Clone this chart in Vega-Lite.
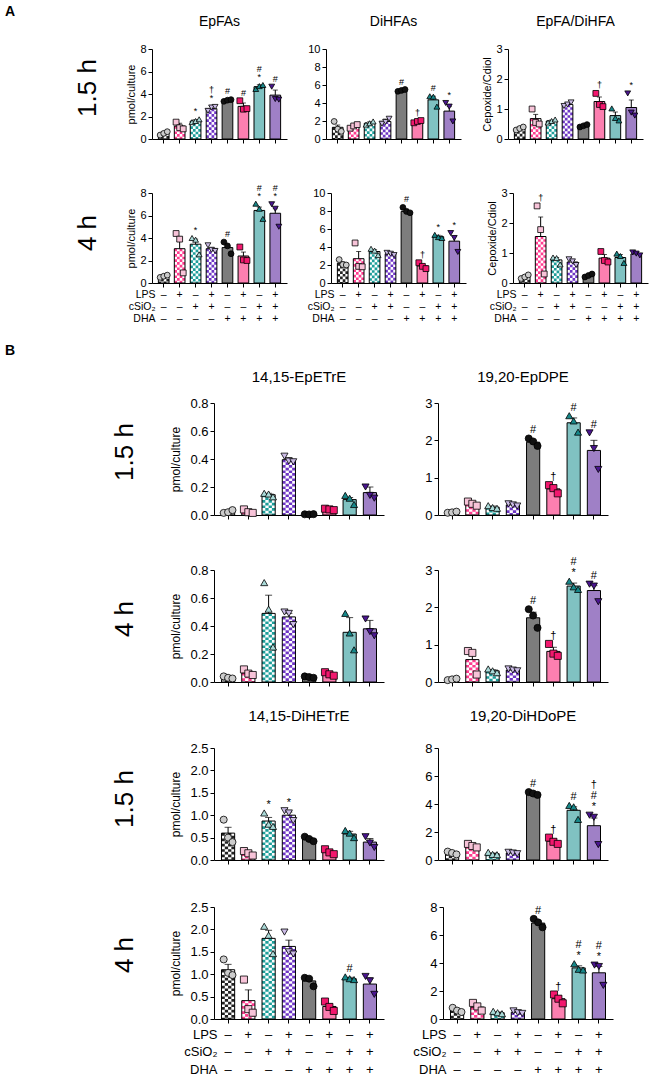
{
"$schema":"https://vega.github.io/schema/vega-lite/v6.json",
"padding":5,
"background":"white",
"config":{
 "view":{"stroke":null},
 "font":"Liberation Sans",
 "text":{"color":"black"},
 "title":{"font":"Liberation Sans","fontWeight":"normal","fontSize":14,"color":"black","offset":14},
 "axis":{"domainColor":"black","tickColor":"black","labelColor":"black","titleColor":"black","grid":false,"tickSize":4,"labelPadding":2,"labelFont":"Liberation Sans","titleFont":"Liberation Sans","titleFontWeight":"normal","domainWidth":1,"tickWidth":1}
},
"datasets":{"d":[
{"p":"A1","g":"–––","m":0.5,"hi":0.62,"v1":0.35,"v2":0.5,"v3":0.65},
{"p":"A1","g":"+––","m":1.15,"hi":1.4,"v1":1.5,"v2":1.0,"v3":0.9},
{"p":"A1","g":"–+–","m":1.6,"hi":1.72,"v1":1.5,"v2":1.6,"v3":1.75,"s":"*"},
{"p":"A1","g":"++–","m":2.7,"hi":2.9,"v1":2.5,"v2":2.8,"v3":2.85,"s":"*","s2":"†"},
{"p":"A1","g":"––+","m":3.45,"hi":3.52,"v1":3.35,"v2":3.45,"v3":3.5,"s":"#"},
{"p":"A1","g":"+–+","m":2.9,"hi":3.2,"v1":3.4,"v2":2.65,"v3":2.7,"s":"#"},
{"p":"A1","g":"–++","m":4.65,"hi":4.82,"v1":4.45,"v2":4.7,"v3":4.8,"s":"*","s2":"#"},
{"p":"A1","g":"+++","m":3.9,"hi":4.35,"v1":4.65,"v2":3.55,"v3":3.5,"s":"#"},
{"p":"A2","g":"–––","m":1.3,"hi":1.55,"v1":1.95,"v2":1.1,"v3":0.85},
{"p":"A2","g":"+––","m":1.4,"hi":1.55,"v1":1.2,"v2":1.45,"v3":1.6},
{"p":"A2","g":"–+–","m":1.75,"hi":1.9,"v1":1.6,"v2":1.75,"v3":1.95},
{"p":"A2","g":"++–","m":1.95,"hi":2.2,"v1":1.7,"v2":1.9,"v3":2.25},
{"p":"A2","g":"––+","m":5.4,"hi":5.5,"v1":5.3,"v2":5.4,"v3":5.5,"s":"#"},
{"p":"A2","g":"+–+","m":1.95,"hi":2.05,"v1":1.8,"v2":1.95,"v3":2.05,"s":"†"},
{"p":"A2","g":"–++","m":4.35,"hi":4.75,"v1":4.75,"v2":4.7,"v3":3.6,"s":"#"},
{"p":"A2","g":"+++","m":3.1,"hi":3.6,"v1":4.0,"v2":3.6,"v3":1.95,"s":"*"},
{"p":"A3","g":"–––","m":0.35,"hi":0.38,"v1":0.3,"v2":0.35,"v3":0.4},
{"p":"A3","g":"+––","m":0.68,"hi":0.82,"v1":1.0,"v2":0.55,"v3":0.5},
{"p":"A3","g":"–+–","m":0.6,"hi":0.63,"v1":0.55,"v2":0.6,"v3":0.65},
{"p":"A3","g":"++–","m":1.15,"hi":1.2,"v1":1.1,"v2":1.15,"v3":1.22},
{"p":"A3","g":"––+","m":0.44,"hi":0.47,"v1":0.4,"v2":0.44,"v3":0.48},
{"p":"A3","g":"+–+","m":1.25,"hi":1.4,"v1":1.52,"v2":1.15,"v3":1.08,"s":"†"},
{"p":"A3","g":"–++","m":0.78,"hi":0.9,"v1":1.02,"v2":0.7,"v3":0.62},
{"p":"A3","g":"+++","m":1.05,"hi":1.3,"v1":1.52,"v2":0.88,"v3":0.78,"s":"*"},
{"p":"A4","g":"–––","m":0.6,"hi":0.66,"v1":0.5,"v2":0.6,"v3":0.7},
{"p":"A4","g":"+––","m":3.05,"hi":4.1,"v1":4.4,"v2":3.9,"v3":0.9},
{"p":"A4","g":"–+–","m":3.45,"hi":3.9,"v1":4.0,"v2":3.85,"v3":2.55,"s":"*"},
{"p":"A4","g":"++–","m":3.05,"hi":3.15,"v1":3.35,"v2":2.95,"v3":2.85},
{"p":"A4","g":"––+","m":3.15,"hi":3.45,"v1":3.64,"v2":3.3,"v3":2.6,"s":"#"},
{"p":"A4","g":"+–+","m":2.4,"hi":2.75,"v1":3.2,"v2":2.05,"v3":2.0},
{"p":"A4","g":"–++","m":6.45,"hi":6.75,"v1":7.05,"v2":6.6,"v3":5.7,"s":"*","s2":"#"},
{"p":"A4","g":"+++","m":6.2,"hi":6.6,"v1":7.0,"v2":6.6,"v3":5.0,"s":"*","s2":"#"},
{"p":"A5","g":"–––","m":2.2,"hi":2.35,"v1":2.6,"v2":2.05,"v3":2.0},
{"p":"A5","g":"+––","m":2.7,"hi":3.5,"v1":4.45,"v2":1.85,"v3":1.8},
{"p":"A5","g":"–+–","m":3.5,"hi":3.7,"v1":3.8,"v2":3.6,"v3":3.1},
{"p":"A5","g":"++–","m":3.25,"hi":3.35,"v1":3.35,"v2":3.25,"v3":3.1},
{"p":"A5","g":"––+","m":7.95,"hi":8.2,"v1":8.4,"v2":7.95,"v3":7.8,"s":"#"},
{"p":"A5","g":"+–+","m":1.9,"hi":2.1,"v1":2.25,"v2":1.85,"v3":1.6,"s":"†"},
{"p":"A5","g":"–++","m":5.15,"hi":5.3,"v1":5.35,"v2":5.1,"v3":5.0,"s":"*"},
{"p":"A5","g":"+++","m":4.65,"hi":5.2,"v1":5.55,"v2":5.0,"v3":3.45,"s":"*"},
{"p":"A6","g":"–––","m":0.2,"hi":0.24,"v1":0.15,"v2":0.2,"v3":0.27},
{"p":"A6","g":"+––","m":1.55,"hi":2.2,"v1":2.57,"v2":1.78,"v3":0.3,"s":"†"},
{"p":"A6","g":"–+–","m":0.77,"hi":0.85,"v1":0.85,"v2":0.83,"v3":0.62},
{"p":"A6","g":"++–","m":0.7,"hi":0.76,"v1":0.79,"v2":0.72,"v3":0.6},
{"p":"A6","g":"––+","m":0.25,"hi":0.28,"v1":0.2,"v2":0.25,"v3":0.3},
{"p":"A6","g":"+–+","m":0.83,"hi":0.95,"v1":1.05,"v2":0.75,"v3":0.7},
{"p":"A6","g":"–++","m":0.85,"hi":0.95,"v1":0.98,"v2":0.9,"v3":0.67},
{"p":"A6","g":"+++","m":0.97,"hi":1.02,"v1":1.02,"v2":0.98,"v3":0.92},
{"p":"B1","g":"–––","m":0.02,"hi":0.025,"v1":0.015,"v2":0.02,"v3":0.035},
{"p":"B1","g":"+––","m":0.025,"hi":0.03,"v1":0.04,"v2":0.02,"v3":0.015},
{"p":"B1","g":"–+–","m":0.145,"hi":0.155,"v1":0.155,"v2":0.15,"v3":0.13},
{"p":"B1","g":"++–","m":0.395,"hi":0.41,"v1":0.42,"v2":0.385,"v3":0.38},
{"p":"B1","g":"––+","m":0.005,"hi":0.007,"v1":0.005,"v2":0.004,"v3":0.006},
{"p":"B1","g":"+–+","m":0.04,"hi":0.045,"v1":0.045,"v2":0.04,"v3":0.035},
{"p":"B1","g":"–++","m":0.11,"hi":0.125,"v1":0.14,"v2":0.12,"v3":0.075},
{"p":"B1","g":"+++","m":0.16,"hi":0.2,"v1":0.2,"v2":0.14,"v3":0.12},
{"p":"B2","g":"–––","m":0.07,"hi":0.08,"v1":0.06,"v2":0.07,"v3":0.09},
{"p":"B2","g":"+––","m":0.3,"hi":0.35,"v1":0.36,"v2":0.3,"v3":0.25},
{"p":"B2","g":"–+–","m":0.21,"hi":0.24,"v1":0.25,"v2":0.2,"v3":0.18},
{"p":"B2","g":"++–","m":0.27,"hi":0.3,"v1":0.3,"v2":0.27,"v3":0.24},
{"p":"B2","g":"––+","m":1.95,"hi":2.0,"v1":2.05,"v2":1.97,"v3":1.85,"s":"#"},
{"p":"B2","g":"+–+","m":0.7,"hi":0.8,"v1":0.8,"v2":0.72,"v3":0.58,"s":"†"},
{"p":"B2","g":"–++","m":2.47,"hi":2.6,"v1":2.66,"v2":2.52,"v3":2.22,"s":"#"},
{"p":"B2","g":"+++","m":1.73,"hi":2.0,"v1":2.2,"v2":1.78,"v3":1.22,"s":"#"},
{"p":"B3","g":"–––","m":0.03,"hi":0.035,"v1":0.04,"v2":0.03,"v3":0.025},
{"p":"B3","g":"+––","m":0.065,"hi":0.08,"v1":0.09,"v2":0.06,"v3":0.05},
{"p":"B3","g":"–+–","m":0.49,"hi":0.62,"v1":0.71,"v2":0.52,"v3":0.25},
{"p":"B3","g":"++–","m":0.465,"hi":0.49,"v1":0.5,"v2":0.49,"v3":0.41},
{"p":"B3","g":"––+","m":0.035,"hi":0.04,"v1":0.04,"v2":0.035,"v3":0.03},
{"p":"B3","g":"+–+","m":0.055,"hi":0.065,"v1":0.07,"v2":0.055,"v3":0.045},
{"p":"B3","g":"–++","m":0.355,"hi":0.46,"v1":0.49,"v2":0.35,"v3":0.23},
{"p":"B3","g":"+++","m":0.38,"hi":0.44,"v1":0.45,"v2":0.36,"v3":0.33},
{"p":"B4","g":"–––","m":0.07,"hi":0.08,"v1":0.05,"v2":0.07,"v3":0.09},
{"p":"B4","g":"+––","m":0.6,"hi":0.8,"v1":0.83,"v2":0.78,"v3":0.2},
{"p":"B4","g":"–+–","m":0.3,"hi":0.33,"v1":0.35,"v2":0.3,"v3":0.25},
{"p":"B4","g":"++–","m":0.32,"hi":0.35,"v1":0.35,"v2":0.32,"v3":0.3},
{"p":"B4","g":"––+","m":1.72,"hi":1.87,"v1":1.95,"v2":1.78,"v3":1.45,"s":"#"},
{"p":"B4","g":"+–+","m":0.82,"hi":0.93,"v1":1.02,"v2":0.76,"v3":0.7,"s":"†"},
{"p":"B4","g":"–++","m":2.57,"hi":2.65,"v1":2.7,"v2":2.55,"v3":2.48,"s":"*","s2":"#"},
{"p":"B4","g":"+++","m":2.45,"hi":2.58,"v1":2.62,"v2":2.57,"v3":2.15,"s":"#"},
{"p":"B5","g":"–––","m":0.6,"hi":0.73,"v1":0.9,"v2":0.5,"v3":0.4},
{"p":"B5","g":"+––","m":0.15,"hi":0.18,"v1":0.2,"v2":0.15,"v3":0.1},
{"p":"B5","g":"–+–","m":0.87,"hi":0.95,"v1":1.05,"v2":0.8,"v3":0.75,"s":"*"},
{"p":"B5","g":"++–","m":1.0,"hi":1.07,"v1":1.1,"v2":1.05,"v3":0.88,"s":"*"},
{"p":"B5","g":"––+","m":0.47,"hi":0.5,"v1":0.52,"v2":0.47,"v3":0.42},
{"p":"B5","g":"+–+","m":0.18,"hi":0.22,"v1":0.24,"v2":0.17,"v3":0.13},
{"p":"B5","g":"–++","m":0.58,"hi":0.64,"v1":0.66,"v2":0.6,"v3":0.5},
{"p":"B5","g":"+++","m":0.4,"hi":0.48,"v1":0.52,"v2":0.38,"v3":0.28},
{"p":"B6","g":"–––","m":0.5,"hi":0.55,"v1":0.6,"v2":0.5,"v3":0.4},
{"p":"B6","g":"+––","m":1.0,"hi":1.1,"v1":1.15,"v2":1.0,"v3":0.9},
{"p":"B6","g":"–+–","m":0.45,"hi":0.5,"v1":0.55,"v2":0.4,"v3":0.38},
{"p":"B6","g":"++–","m":0.5,"hi":0.55,"v1":0.55,"v2":0.5,"v3":0.45},
{"p":"B6","g":"––+","m":4.75,"hi":4.8,"v1":4.85,"v2":4.75,"v3":4.65,"s":"#"},
{"p":"B6","g":"+–+","m":1.35,"hi":1.5,"v1":1.6,"v2":1.3,"v3":1.15,"s":"†"},
{"p":"B6","g":"–++","m":3.55,"hi":3.8,"v1":3.9,"v2":3.8,"v3":2.9,"s":"#"},
{"p":"B6","g":"+++","m":2.45,"hi":3.0,"v1":3.2,"v2":3.05,"v3":1.1,"s":"*","s2":"#","s3":"†"},
{"p":"B7","g":"–––","m":1.1,"hi":1.22,"v1":1.33,"v2":1.03,"v3":0.98},
{"p":"B7","g":"+––","m":0.41,"hi":0.65,"v1":0.88,"v2":0.22,"v3":0.14},
{"p":"B7","g":"–+–","m":1.8,"hi":1.98,"v1":2.07,"v2":1.87,"v3":1.46},
{"p":"B7","g":"++–","m":1.62,"hi":1.76,"v1":1.94,"v2":1.5,"v3":1.45},
{"p":"B7","g":"––+","m":0.85,"hi":0.92,"v1":0.92,"v2":0.9,"v3":0.73},
{"p":"B7","g":"+–+","m":0.28,"hi":0.34,"v1":0.39,"v2":0.27,"v3":0.18},
{"p":"B7","g":"–++","m":0.9,"hi":0.93,"v1":0.94,"v2":0.9,"v3":0.88,"s":"#"},
{"p":"B7","g":"+++","m":0.78,"hi":0.92,"v1":0.95,"v2":0.85,"v3":0.55},
{"p":"B8","g":"–––","m":0.62,"hi":0.7,"v1":0.8,"v2":0.6,"v3":0.5},
{"p":"B8","g":"+––","m":0.85,"hi":1.0,"v1":1.15,"v2":0.9,"v3":0.6},
{"p":"B8","g":"–+–","m":0.45,"hi":0.5,"v1":0.55,"v2":0.45,"v3":0.38},
{"p":"B8","g":"++–","m":0.48,"hi":0.55,"v1":0.58,"v2":0.45,"v3":0.4},
{"p":"B8","g":"––+","m":6.85,"hi":7.0,"v1":7.15,"v2":6.9,"v3":6.55,"s":"#"},
{"p":"B8","g":"+–+","m":1.45,"hi":1.65,"v1":1.75,"v2":1.45,"v3":1.12,"s":"†"},
{"p":"B8","g":"–++","m":3.65,"hi":3.8,"v1":3.95,"v2":3.55,"v3":3.5,"s":"*","s2":"#"},
{"p":"B8","g":"+++","m":3.3,"hi":3.75,"v1":3.85,"v2":3.75,"v3":2.4,"s":"*","s2":"#"}
]},
"vconcat":[
{"title":{"text":"A","anchor":"start","fontSize":14,"fontWeight":"bold","offset":-4},
 "spacing":39,
 "vconcat":[
  {"spacing":20,"hconcat":[
   {"width":100,"height":90,"data":{"values":[{"t":"1.5 h"}]},"mark":{"type":"text","angle":270,"fontSize":26,"dy":33,"dx":6,"baseline":"middle","align":"center"},"encoding":{"text":{"field":"t"}}},
   {"width":135,"height":90,"title":"EpFAs","data":{"name":"d"},"transform":[{"filter":"datum.p=='A1'"}],"resolve":{"scale":{"xOffset":"independent"}},
    "encoding":{"x":{"field":"g","type":"nominal","scale":{"domain":["–––","+––","–+–","++–","––+","+–+","–++","+++"],"paddingInner":0.33,"paddingOuter":0.4},"axis":{"title":null,"labels":false}},
     "y":{"field":"m","type":"quantitative","scale":{"domain":[0,8],"nice":false},"axis":{"title":"pmol/culture","values":[0,2,4,6,8],"format":"d","labelFontSize":11,"titleFontSize":11,"titlePadding":2,"minExtent":14,"maxExtent":14}}},
    "layer":[
     {"transform":[{"filter":"substring(datum.g,2,3)=='–'"},{"fold":["v1","v2","v3","hi"],"as":["c","w"]}],"mark":{"type":"rule","strokeWidth":2.67,"strokeCap":"butt"},"encoding":{"y2":{"datum":0},"xOffset":{"field":"c","type":"nominal","scale":{"domain":["v1","v2","v3","hi"],"paddingInner":0,"paddingOuter":0}},"stroke":{"field":"g","type":"nominal","scale":{"domain":["–––","+––","–+–","++–"],"range":["#222222","#ff3d8f","#1e9e9a","#6d35c4"]},"legend":null},"strokeDash":{"field":"c","type":"nominal","scale":{"domain":["v1","v2","v3","hi"],"range":[[2.67,2.67],[0,2.67,2.67,0],[2.67,2.67],[0,2.67,2.67,0]]},"legend":null}}},
     {"mark":{"type":"bar","stroke":"black","strokeWidth":1},"encoding":{"color":{"field":"g","type":"nominal","scale":{"domain":["–––","+––","–+–","++–","––+","+–+","–++","+++"],"range":["transparent","transparent","transparent","transparent","#7d7d7d","#fc7fb0","#80c2c2","#9f80c6"]},"legend":null}}},
     {"mark":{"type":"rule","color":"black"},"encoding":{"y":{"field":"m","type":"quantitative"},"y2":{"field":"hi"}}},
     {"mark":{"type":"tick","orient":"horizontal","color":"black","size":5,"thickness":1},"encoding":{"y":{"field":"hi","type":"quantitative"}}},
     {"transform":[{"fold":["v1","v2","v3"],"as":["k","v"]}],"mark":{"type":"point","filled":true,"stroke":"black","strokeWidth":0.8,"size":34,"opacity":1},"encoding":{"y":{"field":"v","type":"quantitative"},"xOffset":{"field":"k","type":"nominal"},"shape":{"field":"g","type":"nominal","scale":{"domain":["–––","+––","–+–","++–","––+","+–+","–++","+++"],"range":["circle","square","triangle-up","triangle-down","circle","square","triangle-up","triangle-down"]},"legend":null},"fill":{"field":"g","type":"nominal","scale":{"domain":["–––","+––","–+–","++–","––+","+–+","–++","+++"],"range":["#cccccc","#f7c3d8","#aadad8","#cbbbe6","#111111","#f2186e","#17888a","#4b1690"]},"legend":null}}},
     {"transform":[{"filter":"datum.s"},{"fold":["v1","v2","v3","hi"],"as":["k","v"]},{"aggregate":[{"op":"max","field":"v","as":"top"}],"groupby":["g","s"]}],"mark":{"type":"text","baseline":"bottom","dy":-3,"fontSize":9,"color":"black"},"encoding":{"y":{"field":"top","type":"quantitative"},"text":{"field":"s"}}},
     {"transform":[{"filter":"datum.s2"},{"fold":["v1","v2","v3","hi"],"as":["k","v"]},{"aggregate":[{"op":"max","field":"v","as":"top"}],"groupby":["g","s2"]}],"mark":{"type":"text","baseline":"bottom","dy":-11,"fontSize":9,"color":"black"},"encoding":{"y":{"field":"top","type":"quantitative"},"text":{"field":"s2"}}}
    ]},
   {"width":135,"height":90,"title":"DiHFAs","data":{"name":"d"},"transform":[{"filter":"datum.p=='A2'"}],"resolve":{"scale":{"xOffset":"independent"}},
    "encoding":{"x":{"field":"g","type":"nominal","scale":{"domain":["–––","+––","–+–","++–","––+","+–+","–++","+++"],"paddingInner":0.33,"paddingOuter":0.4},"axis":{"title":null,"labels":false}},
     "y":{"field":"m","type":"quantitative","scale":{"domain":[0,10],"nice":false},"axis":{"title":null,"values":[0,2,4,6,8,10],"format":"d","labelFontSize":11,"minExtent":19,"maxExtent":19}}},
    "layer":[
     {"transform":[{"filter":"substring(datum.g,2,3)=='–'"},{"fold":["v1","v2","v3","hi"],"as":["c","w"]}],"mark":{"type":"rule","strokeWidth":2.67,"strokeCap":"butt"},"encoding":{"y2":{"datum":0},"xOffset":{"field":"c","type":"nominal","scale":{"domain":["v1","v2","v3","hi"],"paddingInner":0,"paddingOuter":0}},"stroke":{"field":"g","type":"nominal","scale":{"domain":["–––","+––","–+–","++–"],"range":["#222222","#ff3d8f","#1e9e9a","#6d35c4"]},"legend":null},"strokeDash":{"field":"c","type":"nominal","scale":{"domain":["v1","v2","v3","hi"],"range":[[2.67,2.67],[0,2.67,2.67,0],[2.67,2.67],[0,2.67,2.67,0]]},"legend":null}}},
     {"mark":{"type":"bar","stroke":"black","strokeWidth":1},"encoding":{"color":{"field":"g","type":"nominal","scale":{"domain":["–––","+––","–+–","++–","––+","+–+","–++","+++"],"range":["transparent","transparent","transparent","transparent","#7d7d7d","#fc7fb0","#80c2c2","#9f80c6"]},"legend":null}}},
     {"mark":{"type":"rule","color":"black"},"encoding":{"y":{"field":"m","type":"quantitative"},"y2":{"field":"hi"}}},
     {"mark":{"type":"tick","orient":"horizontal","color":"black","size":5,"thickness":1},"encoding":{"y":{"field":"hi","type":"quantitative"}}},
     {"transform":[{"fold":["v1","v2","v3"],"as":["k","v"]}],"mark":{"type":"point","filled":true,"stroke":"black","strokeWidth":0.8,"size":34,"opacity":1},"encoding":{"y":{"field":"v","type":"quantitative"},"xOffset":{"field":"k","type":"nominal"},"shape":{"field":"g","type":"nominal","scale":{"domain":["–––","+––","–+–","++–","––+","+–+","–++","+++"],"range":["circle","square","triangle-up","triangle-down","circle","square","triangle-up","triangle-down"]},"legend":null},"fill":{"field":"g","type":"nominal","scale":{"domain":["–––","+––","–+–","++–","––+","+–+","–++","+++"],"range":["#cccccc","#f7c3d8","#aadad8","#cbbbe6","#111111","#f2186e","#17888a","#4b1690"]},"legend":null}}},
     {"transform":[{"filter":"datum.s"},{"fold":["v1","v2","v3","hi"],"as":["k","v"]},{"aggregate":[{"op":"max","field":"v","as":"top"}],"groupby":["g","s"]}],"mark":{"type":"text","baseline":"bottom","dy":-3,"fontSize":9,"color":"black"},"encoding":{"y":{"field":"top","type":"quantitative"},"text":{"field":"s"}}}
    ]},
   {"width":135,"height":90,"title":"EpFA/DiHFA","data":{"name":"d"},"transform":[{"filter":"datum.p=='A3'"}],"resolve":{"scale":{"xOffset":"independent"}},
    "encoding":{"x":{"field":"g","type":"nominal","scale":{"domain":["–––","+––","–+–","++–","––+","+–+","–++","+++"],"paddingInner":0.33,"paddingOuter":0.4},"axis":{"title":null,"labels":false}},
     "y":{"field":"m","type":"quantitative","scale":{"domain":[0,3],"nice":false},"axis":{"title":"Cepoxide/Cdiol","values":[0,1,2,3],"format":"d","labelFontSize":11,"titleFontSize":11,"titlePadding":2,"minExtent":14,"maxExtent":14}}},
    "layer":[
     {"transform":[{"filter":"substring(datum.g,2,3)=='–'"},{"fold":["v1","v2","v3","hi"],"as":["c","w"]}],"mark":{"type":"rule","strokeWidth":2.67,"strokeCap":"butt"},"encoding":{"y2":{"datum":0},"xOffset":{"field":"c","type":"nominal","scale":{"domain":["v1","v2","v3","hi"],"paddingInner":0,"paddingOuter":0}},"stroke":{"field":"g","type":"nominal","scale":{"domain":["–––","+––","–+–","++–"],"range":["#222222","#ff3d8f","#1e9e9a","#6d35c4"]},"legend":null},"strokeDash":{"field":"c","type":"nominal","scale":{"domain":["v1","v2","v3","hi"],"range":[[2.67,2.67],[0,2.67,2.67,0],[2.67,2.67],[0,2.67,2.67,0]]},"legend":null}}},
     {"mark":{"type":"bar","stroke":"black","strokeWidth":1},"encoding":{"color":{"field":"g","type":"nominal","scale":{"domain":["–––","+––","–+–","++–","––+","+–+","–++","+++"],"range":["transparent","transparent","transparent","transparent","#7d7d7d","#fc7fb0","#80c2c2","#9f80c6"]},"legend":null}}},
     {"mark":{"type":"rule","color":"black"},"encoding":{"y":{"field":"m","type":"quantitative"},"y2":{"field":"hi"}}},
     {"mark":{"type":"tick","orient":"horizontal","color":"black","size":5,"thickness":1},"encoding":{"y":{"field":"hi","type":"quantitative"}}},
     {"transform":[{"fold":["v1","v2","v3"],"as":["k","v"]}],"mark":{"type":"point","filled":true,"stroke":"black","strokeWidth":0.8,"size":34,"opacity":1},"encoding":{"y":{"field":"v","type":"quantitative"},"xOffset":{"field":"k","type":"nominal"},"shape":{"field":"g","type":"nominal","scale":{"domain":["–––","+––","–+–","++–","––+","+–+","–++","+++"],"range":["circle","square","triangle-up","triangle-down","circle","square","triangle-up","triangle-down"]},"legend":null},"fill":{"field":"g","type":"nominal","scale":{"domain":["–––","+––","–+–","++–","––+","+–+","–++","+++"],"range":["#cccccc","#f7c3d8","#aadad8","#cbbbe6","#111111","#f2186e","#17888a","#4b1690"]},"legend":null}}},
     {"transform":[{"filter":"datum.s"},{"fold":["v1","v2","v3","hi"],"as":["k","v"]},{"aggregate":[{"op":"max","field":"v","as":"top"}],"groupby":["g","s"]}],"mark":{"type":"text","baseline":"bottom","dy":-3,"fontSize":9,"color":"black"},"encoding":{"y":{"field":"top","type":"quantitative"},"text":{"field":"s"}}}
    ]}
  ]},
  {"spacing":20,"hconcat":[
   {"width":100,"height":90,"data":{"values":[{"t":"4 h"}]},"mark":{"type":"text","angle":270,"fontSize":26,"dy":33,"dx":5,"baseline":"middle","align":"center"},"encoding":{"text":{"field":"t"}}},
   {"width":135,"height":90,"data":{"name":"d"},"transform":[{"filter":"datum.p=='A4'"}],"resolve":{"scale":{"xOffset":"independent"}},
    "encoding":{"x":{"field":"g","type":"nominal","scale":{"domain":["–––","+––","–+–","++–","––+","+–+","–++","+++"],"paddingInner":0.33,"paddingOuter":0.4},"axis":{"title":["LPS","cSiO₂","DHA"],"labelExpr":"split(datum.label,'')","labelAngle":0,"labelFontSize":10.5,"labelLineHeight":12,"labelOverlap":false,"titleAlign":"right","titleX":3,"titleY":6,"titleBaseline":"top","titleFontSize":10.5,"titleLineHeight":12,"titleAngle":0}},
     "y":{"field":"m","type":"quantitative","scale":{"domain":[0,8],"nice":false},"axis":{"title":"pmol/culture","values":[0,2,4,6,8],"format":"d","labelFontSize":11,"titleFontSize":11,"titlePadding":2,"minExtent":14,"maxExtent":14}}},
    "layer":[
     {"transform":[{"filter":"substring(datum.g,2,3)=='–'"},{"fold":["v1","v2","v3","hi"],"as":["c","w"]}],"mark":{"type":"rule","strokeWidth":2.67,"strokeCap":"butt"},"encoding":{"y2":{"datum":0},"xOffset":{"field":"c","type":"nominal","scale":{"domain":["v1","v2","v3","hi"],"paddingInner":0,"paddingOuter":0}},"stroke":{"field":"g","type":"nominal","scale":{"domain":["–––","+––","–+–","++–"],"range":["#222222","#ff3d8f","#1e9e9a","#6d35c4"]},"legend":null},"strokeDash":{"field":"c","type":"nominal","scale":{"domain":["v1","v2","v3","hi"],"range":[[2.67,2.67],[0,2.67,2.67,0],[2.67,2.67],[0,2.67,2.67,0]]},"legend":null}}},
     {"mark":{"type":"bar","stroke":"black","strokeWidth":1},"encoding":{"color":{"field":"g","type":"nominal","scale":{"domain":["–––","+––","–+–","++–","––+","+–+","–++","+++"],"range":["transparent","transparent","transparent","transparent","#7d7d7d","#fc7fb0","#80c2c2","#9f80c6"]},"legend":null}}},
     {"mark":{"type":"rule","color":"black"},"encoding":{"y":{"field":"m","type":"quantitative"},"y2":{"field":"hi"}}},
     {"mark":{"type":"tick","orient":"horizontal","color":"black","size":5,"thickness":1},"encoding":{"y":{"field":"hi","type":"quantitative"}}},
     {"transform":[{"fold":["v1","v2","v3"],"as":["k","v"]}],"mark":{"type":"point","filled":true,"stroke":"black","strokeWidth":0.8,"size":34,"opacity":1},"encoding":{"y":{"field":"v","type":"quantitative"},"xOffset":{"field":"k","type":"nominal"},"shape":{"field":"g","type":"nominal","scale":{"domain":["–––","+––","–+–","++–","––+","+–+","–++","+++"],"range":["circle","square","triangle-up","triangle-down","circle","square","triangle-up","triangle-down"]},"legend":null},"fill":{"field":"g","type":"nominal","scale":{"domain":["–––","+––","–+–","++–","––+","+–+","–++","+++"],"range":["#cccccc","#f7c3d8","#aadad8","#cbbbe6","#111111","#f2186e","#17888a","#4b1690"]},"legend":null}}},
     {"transform":[{"filter":"datum.s"},{"fold":["v1","v2","v3","hi"],"as":["k","v"]},{"aggregate":[{"op":"max","field":"v","as":"top"}],"groupby":["g","s"]}],"mark":{"type":"text","baseline":"bottom","dy":-3,"fontSize":9,"color":"black"},"encoding":{"y":{"field":"top","type":"quantitative"},"text":{"field":"s"}}},
     {"transform":[{"filter":"datum.s2"},{"fold":["v1","v2","v3","hi"],"as":["k","v"]},{"aggregate":[{"op":"max","field":"v","as":"top"}],"groupby":["g","s2"]}],"mark":{"type":"text","baseline":"bottom","dy":-11,"fontSize":9,"color":"black"},"encoding":{"y":{"field":"top","type":"quantitative"},"text":{"field":"s2"}}}
    ]},
   {"width":135,"height":90,"data":{"name":"d"},"transform":[{"filter":"datum.p=='A5'"}],"resolve":{"scale":{"xOffset":"independent"}},
    "encoding":{"x":{"field":"g","type":"nominal","scale":{"domain":["–––","+––","–+–","++–","––+","+–+","–++","+++"],"paddingInner":0.33,"paddingOuter":0.4},"axis":{"title":["LPS","cSiO₂","DHA"],"labelExpr":"split(datum.label,'')","labelAngle":0,"labelFontSize":10.5,"labelLineHeight":12,"labelOverlap":false,"titleAlign":"right","titleX":3,"titleY":6,"titleBaseline":"top","titleFontSize":10.5,"titleLineHeight":12,"titleAngle":0}},
     "y":{"field":"m","type":"quantitative","scale":{"domain":[0,10],"nice":false},"axis":{"title":null,"values":[0,2,4,6,8,10],"format":"d","labelFontSize":11,"minExtent":19,"maxExtent":19}}},
    "layer":[
     {"transform":[{"filter":"substring(datum.g,2,3)=='–'"},{"fold":["v1","v2","v3","hi"],"as":["c","w"]}],"mark":{"type":"rule","strokeWidth":2.67,"strokeCap":"butt"},"encoding":{"y2":{"datum":0},"xOffset":{"field":"c","type":"nominal","scale":{"domain":["v1","v2","v3","hi"],"paddingInner":0,"paddingOuter":0}},"stroke":{"field":"g","type":"nominal","scale":{"domain":["–––","+––","–+–","++–"],"range":["#222222","#ff3d8f","#1e9e9a","#6d35c4"]},"legend":null},"strokeDash":{"field":"c","type":"nominal","scale":{"domain":["v1","v2","v3","hi"],"range":[[2.67,2.67],[0,2.67,2.67,0],[2.67,2.67],[0,2.67,2.67,0]]},"legend":null}}},
     {"mark":{"type":"bar","stroke":"black","strokeWidth":1},"encoding":{"color":{"field":"g","type":"nominal","scale":{"domain":["–––","+––","–+–","++–","––+","+–+","–++","+++"],"range":["transparent","transparent","transparent","transparent","#7d7d7d","#fc7fb0","#80c2c2","#9f80c6"]},"legend":null}}},
     {"mark":{"type":"rule","color":"black"},"encoding":{"y":{"field":"m","type":"quantitative"},"y2":{"field":"hi"}}},
     {"mark":{"type":"tick","orient":"horizontal","color":"black","size":5,"thickness":1},"encoding":{"y":{"field":"hi","type":"quantitative"}}},
     {"transform":[{"fold":["v1","v2","v3"],"as":["k","v"]}],"mark":{"type":"point","filled":true,"stroke":"black","strokeWidth":0.8,"size":34,"opacity":1},"encoding":{"y":{"field":"v","type":"quantitative"},"xOffset":{"field":"k","type":"nominal"},"shape":{"field":"g","type":"nominal","scale":{"domain":["–––","+––","–+–","++–","––+","+–+","–++","+++"],"range":["circle","square","triangle-up","triangle-down","circle","square","triangle-up","triangle-down"]},"legend":null},"fill":{"field":"g","type":"nominal","scale":{"domain":["–––","+––","–+–","++–","––+","+–+","–++","+++"],"range":["#cccccc","#f7c3d8","#aadad8","#cbbbe6","#111111","#f2186e","#17888a","#4b1690"]},"legend":null}}},
     {"transform":[{"filter":"datum.s"},{"fold":["v1","v2","v3","hi"],"as":["k","v"]},{"aggregate":[{"op":"max","field":"v","as":"top"}],"groupby":["g","s"]}],"mark":{"type":"text","baseline":"bottom","dy":-3,"fontSize":9,"color":"black"},"encoding":{"y":{"field":"top","type":"quantitative"},"text":{"field":"s"}}}
    ]},
   {"width":135,"height":90,"data":{"name":"d"},"transform":[{"filter":"datum.p=='A6'"}],"resolve":{"scale":{"xOffset":"independent"}},
    "encoding":{"x":{"field":"g","type":"nominal","scale":{"domain":["–––","+––","–+–","++–","––+","+–+","–++","+++"],"paddingInner":0.33,"paddingOuter":0.4},"axis":{"title":["LPS","cSiO₂","DHA"],"labelExpr":"split(datum.label,'')","labelAngle":0,"labelFontSize":10.5,"labelLineHeight":12,"labelOverlap":false,"titleAlign":"right","titleX":3,"titleY":6,"titleBaseline":"top","titleFontSize":10.5,"titleLineHeight":12,"titleAngle":0}},
     "y":{"field":"m","type":"quantitative","scale":{"domain":[0,3],"nice":false},"axis":{"title":"Cepoxide/Cdiol","values":[0,1,2,3],"format":"d","labelFontSize":11,"titleFontSize":11,"titlePadding":2,"minExtent":14,"maxExtent":14}}},
    "layer":[
     {"transform":[{"filter":"substring(datum.g,2,3)=='–'"},{"fold":["v1","v2","v3","hi"],"as":["c","w"]}],"mark":{"type":"rule","strokeWidth":2.67,"strokeCap":"butt"},"encoding":{"y2":{"datum":0},"xOffset":{"field":"c","type":"nominal","scale":{"domain":["v1","v2","v3","hi"],"paddingInner":0,"paddingOuter":0}},"stroke":{"field":"g","type":"nominal","scale":{"domain":["–––","+––","–+–","++–"],"range":["#222222","#ff3d8f","#1e9e9a","#6d35c4"]},"legend":null},"strokeDash":{"field":"c","type":"nominal","scale":{"domain":["v1","v2","v3","hi"],"range":[[2.67,2.67],[0,2.67,2.67,0],[2.67,2.67],[0,2.67,2.67,0]]},"legend":null}}},
     {"mark":{"type":"bar","stroke":"black","strokeWidth":1},"encoding":{"color":{"field":"g","type":"nominal","scale":{"domain":["–––","+––","–+–","++–","––+","+–+","–++","+++"],"range":["transparent","transparent","transparent","transparent","#7d7d7d","#fc7fb0","#80c2c2","#9f80c6"]},"legend":null}}},
     {"mark":{"type":"rule","color":"black"},"encoding":{"y":{"field":"m","type":"quantitative"},"y2":{"field":"hi"}}},
     {"mark":{"type":"tick","orient":"horizontal","color":"black","size":5,"thickness":1},"encoding":{"y":{"field":"hi","type":"quantitative"}}},
     {"transform":[{"fold":["v1","v2","v3"],"as":["k","v"]}],"mark":{"type":"point","filled":true,"stroke":"black","strokeWidth":0.8,"size":34,"opacity":1},"encoding":{"y":{"field":"v","type":"quantitative"},"xOffset":{"field":"k","type":"nominal"},"shape":{"field":"g","type":"nominal","scale":{"domain":["–––","+––","–+–","++–","––+","+–+","–++","+++"],"range":["circle","square","triangle-up","triangle-down","circle","square","triangle-up","triangle-down"]},"legend":null},"fill":{"field":"g","type":"nominal","scale":{"domain":["–––","+––","–+–","++–","––+","+–+","–++","+++"],"range":["#cccccc","#f7c3d8","#aadad8","#cbbbe6","#111111","#f2186e","#17888a","#4b1690"]},"legend":null}}},
     {"transform":[{"filter":"datum.s"},{"fold":["v1","v2","v3","hi"],"as":["k","v"]},{"aggregate":[{"op":"max","field":"v","as":"top"}],"groupby":["g","s"]}],"mark":{"type":"text","baseline":"bottom","dy":-3,"fontSize":9,"color":"black"},"encoding":{"y":{"field":"top","type":"quantitative"},"text":{"field":"s"}}}
    ]}
  ]}
 ]},
{"title":{"text":"B","anchor":"start","fontSize":14,"fontWeight":"bold","offset":12},
 "spacing":20,
 "vconcat":[
 {"spacing":34,"vconcat":[
  {"spacing":28,"hconcat":[
   {"width":136,"height":112,"data":{"values":[{"t":"1.5 h"}]},"mark":{"type":"text","angle":270,"fontSize":26,"dy":52,"dx":7,"baseline":"middle","align":"center"},"encoding":{"text":{"field":"t"}}},
   {"width":170,"height":112,"title":{"text":"14,15-EpETrE","fontSize":15,"offset":12},"data":{"name":"d"},"transform":[{"filter":"datum.p=='B1'"}],"resolve":{"scale":{"xOffset":"independent"}},
    "encoding":{"x":{"field":"g","type":"nominal","scale":{"domain":["–––","+––","–+–","++–","––+","+–+","–++","+++"],"paddingInner":0.35,"paddingOuter":0.37},"axis":{"title":null,"labels":false}},
     "y":{"field":"m","type":"quantitative","scale":{"domain":[0,0.8],"nice":false},"axis":{"title":"pmol/culture","values":[0,0.2,0.4,0.6,0.8],"format":".1f","labelFontSize":13,"titleFontSize":12,"titlePadding":4,"minExtent":28,"maxExtent":28}}},
    "layer":[
     {"transform":[{"filter":"substring(datum.g,2,3)=='–'"},{"fold":["v1","v2","v3","hi"],"as":["c","w"]}],"mark":{"type":"rule","strokeWidth":3.3,"strokeCap":"butt"},"encoding":{"y2":{"datum":0},"xOffset":{"field":"c","type":"nominal","scale":{"domain":["v1","v2","v3","hi"],"paddingInner":0,"paddingOuter":0}},"stroke":{"field":"g","type":"nominal","scale":{"domain":["–––","+––","–+–","++–"],"range":["#222222","#ff3d8f","#1e9e9a","#6d35c4"]},"legend":null},"strokeDash":{"field":"c","type":"nominal","scale":{"domain":["v1","v2","v3","hi"],"range":[[3.3,3.3],[0,3.3,3.3,0],[3.3,3.3],[0,3.3,3.3,0]]},"legend":null}}},
     {"mark":{"type":"bar","stroke":"black","strokeWidth":1},"encoding":{"color":{"field":"g","type":"nominal","scale":{"domain":["–––","+––","–+–","++–","––+","+–+","–++","+++"],"range":["transparent","transparent","transparent","transparent","#7d7d7d","#fc7fb0","#80c2c2","#9f80c6"]},"legend":null}}},
     {"mark":{"type":"rule","color":"black"},"encoding":{"y":{"field":"m","type":"quantitative"},"y2":{"field":"hi"}}},
     {"mark":{"type":"tick","orient":"horizontal","color":"black","size":7,"thickness":1},"encoding":{"y":{"field":"hi","type":"quantitative"}}},
     {"transform":[{"fold":["v1","v2","v3"],"as":["k","v"]}],"mark":{"type":"point","filled":true,"stroke":"black","strokeWidth":0.8,"size":50,"opacity":1},"encoding":{"y":{"field":"v","type":"quantitative"},"xOffset":{"field":"k","type":"nominal"},"shape":{"field":"g","type":"nominal","scale":{"domain":["–––","+––","–+–","++–","––+","+–+","–++","+++"],"range":["circle","square","triangle-up","triangle-down","circle","square","triangle-up","triangle-down"]},"legend":null},"fill":{"field":"g","type":"nominal","scale":{"domain":["–––","+––","–+–","++–","––+","+–+","–++","+++"],"range":["#cccccc","#f7c3d8","#aadad8","#cbbbe6","#111111","#f2186e","#17888a","#4b1690"]},"legend":null}}}
    ]},
   {"width":170,"height":112,"title":{"text":"19,20-EpDPE","fontSize":15,"offset":12},"data":{"name":"d"},"transform":[{"filter":"datum.p=='B2'"}],"resolve":{"scale":{"xOffset":"independent"}},
    "encoding":{"x":{"field":"g","type":"nominal","scale":{"domain":["–––","+––","–+–","++–","––+","+–+","–++","+++"],"paddingInner":0.35,"paddingOuter":0.37},"axis":{"title":null,"labels":false}},
     "y":{"field":"m","type":"quantitative","scale":{"domain":[0,3],"nice":false},"axis":{"title":null,"values":[0,1,2,3],"format":"d","labelFontSize":13,"minExtent":26,"maxExtent":26}}},
    "layer":[
     {"transform":[{"filter":"substring(datum.g,2,3)=='–'"},{"fold":["v1","v2","v3","hi"],"as":["c","w"]}],"mark":{"type":"rule","strokeWidth":3.3,"strokeCap":"butt"},"encoding":{"y2":{"datum":0},"xOffset":{"field":"c","type":"nominal","scale":{"domain":["v1","v2","v3","hi"],"paddingInner":0,"paddingOuter":0}},"stroke":{"field":"g","type":"nominal","scale":{"domain":["–––","+––","–+–","++–"],"range":["#222222","#ff3d8f","#1e9e9a","#6d35c4"]},"legend":null},"strokeDash":{"field":"c","type":"nominal","scale":{"domain":["v1","v2","v3","hi"],"range":[[3.3,3.3],[0,3.3,3.3,0],[3.3,3.3],[0,3.3,3.3,0]]},"legend":null}}},
     {"mark":{"type":"bar","stroke":"black","strokeWidth":1},"encoding":{"color":{"field":"g","type":"nominal","scale":{"domain":["–––","+––","–+–","++–","––+","+–+","–++","+++"],"range":["transparent","transparent","transparent","transparent","#7d7d7d","#fc7fb0","#80c2c2","#9f80c6"]},"legend":null}}},
     {"mark":{"type":"rule","color":"black"},"encoding":{"y":{"field":"m","type":"quantitative"},"y2":{"field":"hi"}}},
     {"mark":{"type":"tick","orient":"horizontal","color":"black","size":7,"thickness":1},"encoding":{"y":{"field":"hi","type":"quantitative"}}},
     {"transform":[{"fold":["v1","v2","v3"],"as":["k","v"]}],"mark":{"type":"point","filled":true,"stroke":"black","strokeWidth":0.8,"size":50,"opacity":1},"encoding":{"y":{"field":"v","type":"quantitative"},"xOffset":{"field":"k","type":"nominal"},"shape":{"field":"g","type":"nominal","scale":{"domain":["–––","+––","–+–","++–","––+","+–+","–++","+++"],"range":["circle","square","triangle-up","triangle-down","circle","square","triangle-up","triangle-down"]},"legend":null},"fill":{"field":"g","type":"nominal","scale":{"domain":["–––","+––","–+–","++–","––+","+–+","–++","+++"],"range":["#cccccc","#f7c3d8","#aadad8","#cbbbe6","#111111","#f2186e","#17888a","#4b1690"]},"legend":null}}},
     {"transform":[{"filter":"datum.s"},{"fold":["v1","v2","v3","hi"],"as":["k","v"]},{"aggregate":[{"op":"max","field":"v","as":"top"}],"groupby":["g","s"]}],"mark":{"type":"text","baseline":"bottom","dy":-3,"fontSize":11,"color":"black"},"encoding":{"y":{"field":"top","type":"quantitative"},"text":{"field":"s"}}}
    ]}
  ]},
  {"spacing":28,"hconcat":[
   {"width":136,"height":112,"data":{"values":[{"t":"4 h"}]},"mark":{"type":"text","angle":270,"fontSize":26,"dy":52,"dx":7,"baseline":"middle","align":"center"},"encoding":{"text":{"field":"t"}}},
   {"width":170,"height":112,"data":{"name":"d"},"transform":[{"filter":"datum.p=='B3'"}],"resolve":{"scale":{"xOffset":"independent"}},
    "encoding":{"x":{"field":"g","type":"nominal","scale":{"domain":["–––","+––","–+–","++–","––+","+–+","–++","+++"],"paddingInner":0.35,"paddingOuter":0.37},"axis":{"title":null,"labels":false}},
     "y":{"field":"m","type":"quantitative","scale":{"domain":[0,0.8],"nice":false},"axis":{"title":"pmol/culture","values":[0,0.2,0.4,0.6,0.8],"format":".1f","labelFontSize":13,"titleFontSize":12,"titlePadding":4,"minExtent":28,"maxExtent":28}}},
    "layer":[
     {"transform":[{"filter":"substring(datum.g,2,3)=='–'"},{"fold":["v1","v2","v3","hi"],"as":["c","w"]}],"mark":{"type":"rule","strokeWidth":3.3,"strokeCap":"butt"},"encoding":{"y2":{"datum":0},"xOffset":{"field":"c","type":"nominal","scale":{"domain":["v1","v2","v3","hi"],"paddingInner":0,"paddingOuter":0}},"stroke":{"field":"g","type":"nominal","scale":{"domain":["–––","+––","–+–","++–"],"range":["#222222","#ff3d8f","#1e9e9a","#6d35c4"]},"legend":null},"strokeDash":{"field":"c","type":"nominal","scale":{"domain":["v1","v2","v3","hi"],"range":[[3.3,3.3],[0,3.3,3.3,0],[3.3,3.3],[0,3.3,3.3,0]]},"legend":null}}},
     {"mark":{"type":"bar","stroke":"black","strokeWidth":1},"encoding":{"color":{"field":"g","type":"nominal","scale":{"domain":["–––","+––","–+–","++–","––+","+–+","–++","+++"],"range":["transparent","transparent","transparent","transparent","#7d7d7d","#fc7fb0","#80c2c2","#9f80c6"]},"legend":null}}},
     {"mark":{"type":"rule","color":"black"},"encoding":{"y":{"field":"m","type":"quantitative"},"y2":{"field":"hi"}}},
     {"mark":{"type":"tick","orient":"horizontal","color":"black","size":7,"thickness":1},"encoding":{"y":{"field":"hi","type":"quantitative"}}},
     {"transform":[{"fold":["v1","v2","v3"],"as":["k","v"]}],"mark":{"type":"point","filled":true,"stroke":"black","strokeWidth":0.8,"size":50,"opacity":1},"encoding":{"y":{"field":"v","type":"quantitative"},"xOffset":{"field":"k","type":"nominal"},"shape":{"field":"g","type":"nominal","scale":{"domain":["–––","+––","–+–","++–","––+","+–+","–++","+++"],"range":["circle","square","triangle-up","triangle-down","circle","square","triangle-up","triangle-down"]},"legend":null},"fill":{"field":"g","type":"nominal","scale":{"domain":["–––","+––","–+–","++–","––+","+–+","–++","+++"],"range":["#cccccc","#f7c3d8","#aadad8","#cbbbe6","#111111","#f2186e","#17888a","#4b1690"]},"legend":null}}}
    ]},
   {"width":170,"height":112,"data":{"name":"d"},"transform":[{"filter":"datum.p=='B4'"}],"resolve":{"scale":{"xOffset":"independent"}},
    "encoding":{"x":{"field":"g","type":"nominal","scale":{"domain":["–––","+––","–+–","++–","––+","+–+","–++","+++"],"paddingInner":0.35,"paddingOuter":0.37},"axis":{"title":null,"labels":false}},
     "y":{"field":"m","type":"quantitative","scale":{"domain":[0,3],"nice":false},"axis":{"title":null,"values":[0,1,2,3],"format":"d","labelFontSize":13,"minExtent":26,"maxExtent":26}}},
    "layer":[
     {"transform":[{"filter":"substring(datum.g,2,3)=='–'"},{"fold":["v1","v2","v3","hi"],"as":["c","w"]}],"mark":{"type":"rule","strokeWidth":3.3,"strokeCap":"butt"},"encoding":{"y2":{"datum":0},"xOffset":{"field":"c","type":"nominal","scale":{"domain":["v1","v2","v3","hi"],"paddingInner":0,"paddingOuter":0}},"stroke":{"field":"g","type":"nominal","scale":{"domain":["–––","+––","–+–","++–"],"range":["#222222","#ff3d8f","#1e9e9a","#6d35c4"]},"legend":null},"strokeDash":{"field":"c","type":"nominal","scale":{"domain":["v1","v2","v3","hi"],"range":[[3.3,3.3],[0,3.3,3.3,0],[3.3,3.3],[0,3.3,3.3,0]]},"legend":null}}},
     {"mark":{"type":"bar","stroke":"black","strokeWidth":1},"encoding":{"color":{"field":"g","type":"nominal","scale":{"domain":["–––","+––","–+–","++–","––+","+–+","–++","+++"],"range":["transparent","transparent","transparent","transparent","#7d7d7d","#fc7fb0","#80c2c2","#9f80c6"]},"legend":null}}},
     {"mark":{"type":"rule","color":"black"},"encoding":{"y":{"field":"m","type":"quantitative"},"y2":{"field":"hi"}}},
     {"mark":{"type":"tick","orient":"horizontal","color":"black","size":7,"thickness":1},"encoding":{"y":{"field":"hi","type":"quantitative"}}},
     {"transform":[{"fold":["v1","v2","v3"],"as":["k","v"]}],"mark":{"type":"point","filled":true,"stroke":"black","strokeWidth":0.8,"size":50,"opacity":1},"encoding":{"y":{"field":"v","type":"quantitative"},"xOffset":{"field":"k","type":"nominal"},"shape":{"field":"g","type":"nominal","scale":{"domain":["–––","+––","–+–","++–","––+","+–+","–++","+++"],"range":["circle","square","triangle-up","triangle-down","circle","square","triangle-up","triangle-down"]},"legend":null},"fill":{"field":"g","type":"nominal","scale":{"domain":["–––","+––","–+–","++–","––+","+–+","–++","+++"],"range":["#cccccc","#f7c3d8","#aadad8","#cbbbe6","#111111","#f2186e","#17888a","#4b1690"]},"legend":null}}},
     {"transform":[{"filter":"datum.s"},{"fold":["v1","v2","v3","hi"],"as":["k","v"]},{"aggregate":[{"op":"max","field":"v","as":"top"}],"groupby":["g","s"]}],"mark":{"type":"text","baseline":"bottom","dy":-3,"fontSize":11,"color":"black"},"encoding":{"y":{"field":"top","type":"quantitative"},"text":{"field":"s"}}},
     {"transform":[{"filter":"datum.s2"},{"fold":["v1","v2","v3","hi"],"as":["k","v"]},{"aggregate":[{"op":"max","field":"v","as":"top"}],"groupby":["g","s2"]}],"mark":{"type":"text","baseline":"bottom","dy":-14,"fontSize":11,"color":"black"},"encoding":{"y":{"field":"top","type":"quantitative"},"text":{"field":"s2"}}}
    ]}
  ]}
 ]},
 {"spacing":34,"vconcat":[
  {"spacing":28,"hconcat":[
   {"width":136,"height":112,"data":{"values":[{"t":"1.5 h"}]},"mark":{"type":"text","angle":270,"fontSize":26,"dy":52,"dx":5,"baseline":"middle","align":"center"},"encoding":{"text":{"field":"t"}}},
   {"width":170,"height":112,"title":{"text":"14,15-DiHETrE","fontSize":15,"offset":18},"data":{"name":"d"},"transform":[{"filter":"datum.p=='B5'"}],"resolve":{"scale":{"xOffset":"independent"}},
    "encoding":{"x":{"field":"g","type":"nominal","scale":{"domain":["–––","+––","–+–","++–","––+","+–+","–++","+++"],"paddingInner":0.35,"paddingOuter":0.37},"axis":{"title":null,"labels":false}},
     "y":{"field":"m","type":"quantitative","scale":{"domain":[0,2.5],"nice":false},"axis":{"title":"pmol/culture","values":[0,0.5,1,1.5,2,2.5],"format":".1f","labelFontSize":13,"titleFontSize":12,"titlePadding":4,"minExtent":28,"maxExtent":28}}},
    "layer":[
     {"transform":[{"filter":"substring(datum.g,2,3)=='–'"},{"fold":["v1","v2","v3","hi"],"as":["c","w"]}],"mark":{"type":"rule","strokeWidth":3.3,"strokeCap":"butt"},"encoding":{"y2":{"datum":0},"xOffset":{"field":"c","type":"nominal","scale":{"domain":["v1","v2","v3","hi"],"paddingInner":0,"paddingOuter":0}},"stroke":{"field":"g","type":"nominal","scale":{"domain":["–––","+––","–+–","++–"],"range":["#222222","#ff3d8f","#1e9e9a","#6d35c4"]},"legend":null},"strokeDash":{"field":"c","type":"nominal","scale":{"domain":["v1","v2","v3","hi"],"range":[[3.3,3.3],[0,3.3,3.3,0],[3.3,3.3],[0,3.3,3.3,0]]},"legend":null}}},
     {"mark":{"type":"bar","stroke":"black","strokeWidth":1},"encoding":{"color":{"field":"g","type":"nominal","scale":{"domain":["–––","+––","–+–","++–","––+","+–+","–++","+++"],"range":["transparent","transparent","transparent","transparent","#7d7d7d","#fc7fb0","#80c2c2","#9f80c6"]},"legend":null}}},
     {"mark":{"type":"rule","color":"black"},"encoding":{"y":{"field":"m","type":"quantitative"},"y2":{"field":"hi"}}},
     {"mark":{"type":"tick","orient":"horizontal","color":"black","size":7,"thickness":1},"encoding":{"y":{"field":"hi","type":"quantitative"}}},
     {"transform":[{"fold":["v1","v2","v3"],"as":["k","v"]}],"mark":{"type":"point","filled":true,"stroke":"black","strokeWidth":0.8,"size":50,"opacity":1},"encoding":{"y":{"field":"v","type":"quantitative"},"xOffset":{"field":"k","type":"nominal"},"shape":{"field":"g","type":"nominal","scale":{"domain":["–––","+––","–+–","++–","––+","+–+","–++","+++"],"range":["circle","square","triangle-up","triangle-down","circle","square","triangle-up","triangle-down"]},"legend":null},"fill":{"field":"g","type":"nominal","scale":{"domain":["–––","+––","–+–","++–","––+","+–+","–++","+++"],"range":["#cccccc","#f7c3d8","#aadad8","#cbbbe6","#111111","#f2186e","#17888a","#4b1690"]},"legend":null}}},
     {"transform":[{"filter":"datum.s"},{"fold":["v1","v2","v3","hi"],"as":["k","v"]},{"aggregate":[{"op":"max","field":"v","as":"top"}],"groupby":["g","s"]}],"mark":{"type":"text","baseline":"bottom","dy":-3,"fontSize":11,"color":"black"},"encoding":{"y":{"field":"top","type":"quantitative"},"text":{"field":"s"}}}
    ]},
   {"width":170,"height":112,"title":{"text":"19,20-DiHDoPE","fontSize":15,"offset":18},"data":{"name":"d"},"transform":[{"filter":"datum.p=='B6'"}],"resolve":{"scale":{"xOffset":"independent"}},
    "encoding":{"x":{"field":"g","type":"nominal","scale":{"domain":["–––","+––","–+–","++–","––+","+–+","–++","+++"],"paddingInner":0.35,"paddingOuter":0.37},"axis":{"title":null,"labels":false}},
     "y":{"field":"m","type":"quantitative","scale":{"domain":[0,8],"nice":false},"axis":{"title":null,"values":[0,2,4,6,8],"format":"d","labelFontSize":13,"minExtent":26,"maxExtent":26}}},
    "layer":[
     {"transform":[{"filter":"substring(datum.g,2,3)=='–'"},{"fold":["v1","v2","v3","hi"],"as":["c","w"]}],"mark":{"type":"rule","strokeWidth":3.3,"strokeCap":"butt"},"encoding":{"y2":{"datum":0},"xOffset":{"field":"c","type":"nominal","scale":{"domain":["v1","v2","v3","hi"],"paddingInner":0,"paddingOuter":0}},"stroke":{"field":"g","type":"nominal","scale":{"domain":["–––","+––","–+–","++–"],"range":["#222222","#ff3d8f","#1e9e9a","#6d35c4"]},"legend":null},"strokeDash":{"field":"c","type":"nominal","scale":{"domain":["v1","v2","v3","hi"],"range":[[3.3,3.3],[0,3.3,3.3,0],[3.3,3.3],[0,3.3,3.3,0]]},"legend":null}}},
     {"mark":{"type":"bar","stroke":"black","strokeWidth":1},"encoding":{"color":{"field":"g","type":"nominal","scale":{"domain":["–––","+––","–+–","++–","––+","+–+","–++","+++"],"range":["transparent","transparent","transparent","transparent","#7d7d7d","#fc7fb0","#80c2c2","#9f80c6"]},"legend":null}}},
     {"mark":{"type":"rule","color":"black"},"encoding":{"y":{"field":"m","type":"quantitative"},"y2":{"field":"hi"}}},
     {"mark":{"type":"tick","orient":"horizontal","color":"black","size":7,"thickness":1},"encoding":{"y":{"field":"hi","type":"quantitative"}}},
     {"transform":[{"fold":["v1","v2","v3"],"as":["k","v"]}],"mark":{"type":"point","filled":true,"stroke":"black","strokeWidth":0.8,"size":50,"opacity":1},"encoding":{"y":{"field":"v","type":"quantitative"},"xOffset":{"field":"k","type":"nominal"},"shape":{"field":"g","type":"nominal","scale":{"domain":["–––","+––","–+–","++–","––+","+–+","–++","+++"],"range":["circle","square","triangle-up","triangle-down","circle","square","triangle-up","triangle-down"]},"legend":null},"fill":{"field":"g","type":"nominal","scale":{"domain":["–––","+––","–+–","++–","––+","+–+","–++","+++"],"range":["#cccccc","#f7c3d8","#aadad8","#cbbbe6","#111111","#f2186e","#17888a","#4b1690"]},"legend":null}}},
     {"transform":[{"filter":"datum.s"},{"fold":["v1","v2","v3","hi"],"as":["k","v"]},{"aggregate":[{"op":"max","field":"v","as":"top"}],"groupby":["g","s"]}],"mark":{"type":"text","baseline":"bottom","dy":-3,"fontSize":11,"color":"black"},"encoding":{"y":{"field":"top","type":"quantitative"},"text":{"field":"s"}}},
     {"transform":[{"filter":"datum.s2"},{"fold":["v1","v2","v3","hi"],"as":["k","v"]},{"aggregate":[{"op":"max","field":"v","as":"top"}],"groupby":["g","s2"]}],"mark":{"type":"text","baseline":"bottom","dy":-14,"fontSize":11,"color":"black"},"encoding":{"y":{"field":"top","type":"quantitative"},"text":{"field":"s2"}}},
     {"transform":[{"filter":"datum.s3"},{"fold":["v1","v2","v3","hi"],"as":["k","v"]},{"aggregate":[{"op":"max","field":"v","as":"top"}],"groupby":["g","s3"]}],"mark":{"type":"text","baseline":"bottom","dy":-25,"fontSize":11,"color":"black"},"encoding":{"y":{"field":"top","type":"quantitative"},"text":{"field":"s3"}}}
    ]}
  ]},
  {"spacing":28,"hconcat":[
   {"width":136,"height":112,"data":{"values":[{"t":"4 h"}]},"mark":{"type":"text","angle":270,"fontSize":26,"dy":52,"dx":8,"baseline":"middle","align":"center"},"encoding":{"text":{"field":"t"}}},
   {"width":170,"height":112,"data":{"name":"d"},"transform":[{"filter":"datum.p=='B7'"}],"resolve":{"scale":{"xOffset":"independent"}},
    "encoding":{"x":{"field":"g","type":"nominal","scale":{"domain":["–––","+––","–+–","++–","––+","+–+","–++","+++"],"paddingInner":0.35,"paddingOuter":0.37},"axis":{"title":["LPS","cSiO₂","DHA"],"labelExpr":"split(datum.label,'')","labelAngle":0,"labelFontSize":13,"labelPadding":5,"labelLineHeight":17.5,"labelOverlap":false,"titleAlign":"right","titleX":3,"titleY":9,"titleBaseline":"top","titleFontSize":13,"titleLineHeight":17.5,"titleAngle":0}},
     "y":{"field":"m","type":"quantitative","scale":{"domain":[0,2.5],"nice":false},"axis":{"title":"pmol/culture","values":[0,0.5,1,1.5,2,2.5],"format":".1f","labelFontSize":13,"titleFontSize":12,"titlePadding":4,"minExtent":28,"maxExtent":28}}},
    "layer":[
     {"transform":[{"filter":"substring(datum.g,2,3)=='–'"},{"fold":["v1","v2","v3","hi"],"as":["c","w"]}],"mark":{"type":"rule","strokeWidth":3.3,"strokeCap":"butt"},"encoding":{"y2":{"datum":0},"xOffset":{"field":"c","type":"nominal","scale":{"domain":["v1","v2","v3","hi"],"paddingInner":0,"paddingOuter":0}},"stroke":{"field":"g","type":"nominal","scale":{"domain":["–––","+––","–+–","++–"],"range":["#222222","#ff3d8f","#1e9e9a","#6d35c4"]},"legend":null},"strokeDash":{"field":"c","type":"nominal","scale":{"domain":["v1","v2","v3","hi"],"range":[[3.3,3.3],[0,3.3,3.3,0],[3.3,3.3],[0,3.3,3.3,0]]},"legend":null}}},
     {"mark":{"type":"bar","stroke":"black","strokeWidth":1},"encoding":{"color":{"field":"g","type":"nominal","scale":{"domain":["–––","+––","–+–","++–","––+","+–+","–++","+++"],"range":["transparent","transparent","transparent","transparent","#7d7d7d","#fc7fb0","#80c2c2","#9f80c6"]},"legend":null}}},
     {"mark":{"type":"rule","color":"black"},"encoding":{"y":{"field":"m","type":"quantitative"},"y2":{"field":"hi"}}},
     {"mark":{"type":"tick","orient":"horizontal","color":"black","size":7,"thickness":1},"encoding":{"y":{"field":"hi","type":"quantitative"}}},
     {"transform":[{"fold":["v1","v2","v3"],"as":["k","v"]}],"mark":{"type":"point","filled":true,"stroke":"black","strokeWidth":0.8,"size":50,"opacity":1},"encoding":{"y":{"field":"v","type":"quantitative"},"xOffset":{"field":"k","type":"nominal"},"shape":{"field":"g","type":"nominal","scale":{"domain":["–––","+––","–+–","++–","––+","+–+","–++","+++"],"range":["circle","square","triangle-up","triangle-down","circle","square","triangle-up","triangle-down"]},"legend":null},"fill":{"field":"g","type":"nominal","scale":{"domain":["–––","+––","–+–","++–","––+","+–+","–++","+++"],"range":["#cccccc","#f7c3d8","#aadad8","#cbbbe6","#111111","#f2186e","#17888a","#4b1690"]},"legend":null}}},
     {"transform":[{"filter":"datum.s"},{"fold":["v1","v2","v3","hi"],"as":["k","v"]},{"aggregate":[{"op":"max","field":"v","as":"top"}],"groupby":["g","s"]}],"mark":{"type":"text","baseline":"bottom","dy":-3,"fontSize":11,"color":"black"},"encoding":{"y":{"field":"top","type":"quantitative"},"text":{"field":"s"}}}
    ]},
   {"width":170,"height":112,"data":{"name":"d"},"transform":[{"filter":"datum.p=='B8'"}],"resolve":{"scale":{"xOffset":"independent"}},
    "encoding":{"x":{"field":"g","type":"nominal","scale":{"domain":["–––","+––","–+–","++–","––+","+–+","–++","+++"],"paddingInner":0.35,"paddingOuter":0.37},"axis":{"title":["LPS","cSiO₂","DHA"],"labelExpr":"split(datum.label,'')","labelAngle":0,"labelFontSize":13,"labelPadding":5,"labelLineHeight":17.5,"labelOverlap":false,"titleAlign":"right","titleX":3,"titleY":9,"titleBaseline":"top","titleFontSize":13,"titleLineHeight":17.5,"titleAngle":0}},
     "y":{"field":"m","type":"quantitative","scale":{"domain":[0,8],"nice":false},"axis":{"title":null,"values":[0,2,4,6,8],"format":"d","labelFontSize":13,"minExtent":26,"maxExtent":26}}},
    "layer":[
     {"transform":[{"filter":"substring(datum.g,2,3)=='–'"},{"fold":["v1","v2","v3","hi"],"as":["c","w"]}],"mark":{"type":"rule","strokeWidth":3.3,"strokeCap":"butt"},"encoding":{"y2":{"datum":0},"xOffset":{"field":"c","type":"nominal","scale":{"domain":["v1","v2","v3","hi"],"paddingInner":0,"paddingOuter":0}},"stroke":{"field":"g","type":"nominal","scale":{"domain":["–––","+––","–+–","++–"],"range":["#222222","#ff3d8f","#1e9e9a","#6d35c4"]},"legend":null},"strokeDash":{"field":"c","type":"nominal","scale":{"domain":["v1","v2","v3","hi"],"range":[[3.3,3.3],[0,3.3,3.3,0],[3.3,3.3],[0,3.3,3.3,0]]},"legend":null}}},
     {"mark":{"type":"bar","stroke":"black","strokeWidth":1},"encoding":{"color":{"field":"g","type":"nominal","scale":{"domain":["–––","+––","–+–","++–","––+","+–+","–++","+++"],"range":["transparent","transparent","transparent","transparent","#7d7d7d","#fc7fb0","#80c2c2","#9f80c6"]},"legend":null}}},
     {"mark":{"type":"rule","color":"black"},"encoding":{"y":{"field":"m","type":"quantitative"},"y2":{"field":"hi"}}},
     {"mark":{"type":"tick","orient":"horizontal","color":"black","size":7,"thickness":1},"encoding":{"y":{"field":"hi","type":"quantitative"}}},
     {"transform":[{"fold":["v1","v2","v3"],"as":["k","v"]}],"mark":{"type":"point","filled":true,"stroke":"black","strokeWidth":0.8,"size":50,"opacity":1},"encoding":{"y":{"field":"v","type":"quantitative"},"xOffset":{"field":"k","type":"nominal"},"shape":{"field":"g","type":"nominal","scale":{"domain":["–––","+––","–+–","++–","––+","+–+","–++","+++"],"range":["circle","square","triangle-up","triangle-down","circle","square","triangle-up","triangle-down"]},"legend":null},"fill":{"field":"g","type":"nominal","scale":{"domain":["–––","+––","–+–","++–","––+","+–+","–++","+++"],"range":["#cccccc","#f7c3d8","#aadad8","#cbbbe6","#111111","#f2186e","#17888a","#4b1690"]},"legend":null}}},
     {"transform":[{"filter":"datum.s"},{"fold":["v1","v2","v3","hi"],"as":["k","v"]},{"aggregate":[{"op":"max","field":"v","as":"top"}],"groupby":["g","s"]}],"mark":{"type":"text","baseline":"bottom","dy":-3,"fontSize":11,"color":"black"},"encoding":{"y":{"field":"top","type":"quantitative"},"text":{"field":"s"}}},
     {"transform":[{"filter":"datum.s2"},{"fold":["v1","v2","v3","hi"],"as":["k","v"]},{"aggregate":[{"op":"max","field":"v","as":"top"}],"groupby":["g","s2"]}],"mark":{"type":"text","baseline":"bottom","dy":-14,"fontSize":11,"color":"black"},"encoding":{"y":{"field":"top","type":"quantitative"},"text":{"field":"s2"}}}
    ]}
  ]}
 ]}
 ]}
]
}
